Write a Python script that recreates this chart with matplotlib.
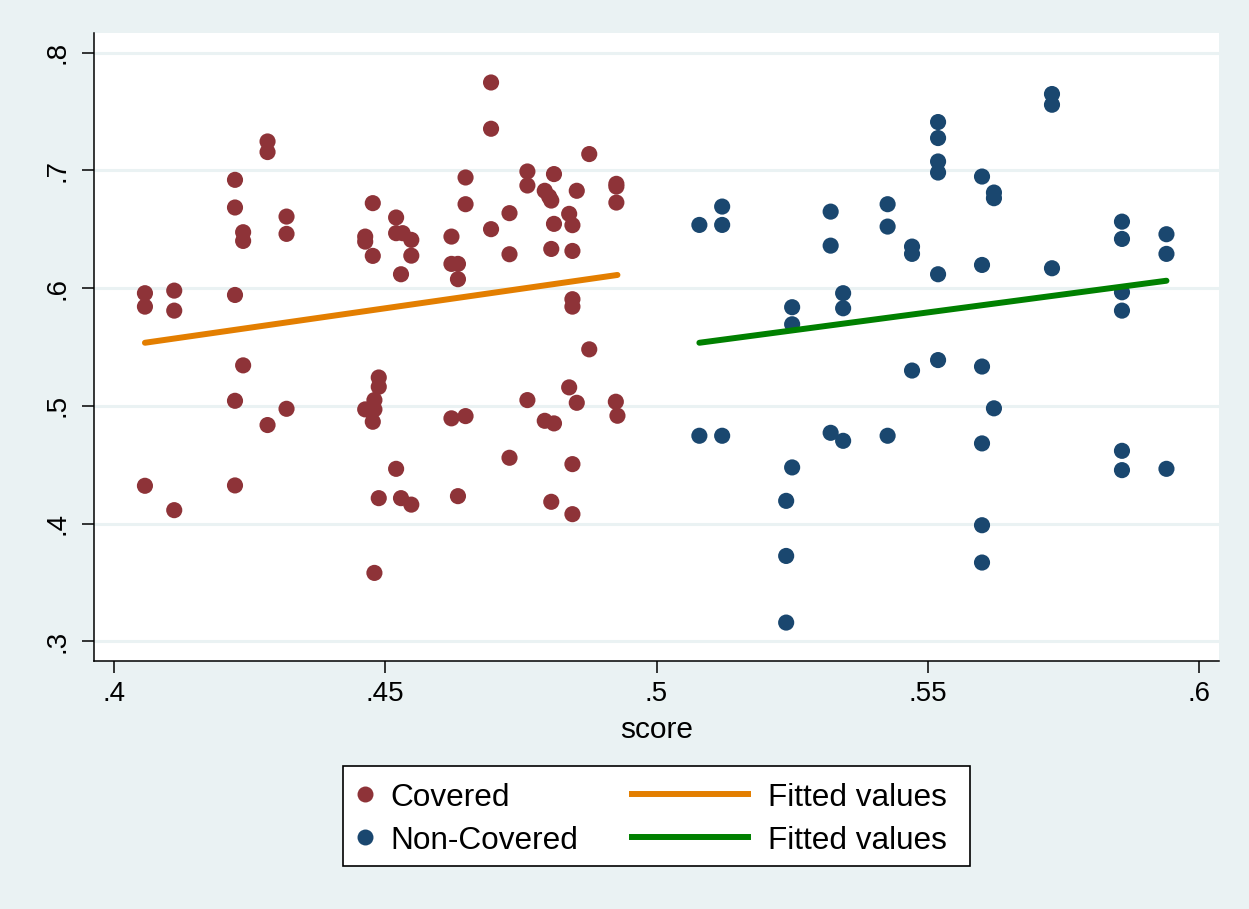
import numpy as np
import matplotlib
matplotlib.use("Agg")
import matplotlib.pyplot as plt
from matplotlib.lines import Line2D
from matplotlib.patches import Rectangle

plt.rcParams['font.family'] = ['Liberation Sans', 'DejaVu Sans']

# ---------------- data ----------------
covered_x = [0.4057, 0.4057, 0.4111, 0.4111, 0.4057, 0.4111,
             0.4223, 0.4223, 0.4223, 0.4223, 0.4223,
             0.4238, 0.4238, 0.4238,
             0.4283, 0.4283, 0.4283,
             0.4318, 0.4318, 0.4318,
             0.4477, 0.4463, 0.4463, 0.4477,
             0.4520, 0.4520, 0.4532, 0.4548, 0.4548, 0.4529,
             0.4488, 0.4488, 0.4480, 0.4463, 0.4480, 0.4477,
             0.4520, 0.4488, 0.4529, 0.4548, 0.4480,
             0.4622, 0.4622, 0.4634, 0.4634, 0.4622, 0.4648, 0.4634,
             0.4648, 0.4648,
             0.4695, 0.4695, 0.4695,
             0.4729, 0.4729, 0.4729,
             0.4762, 0.4762, 0.4762,
             0.4794, 0.4802, 0.4806, 0.4811, 0.4811, 0.4806, 0.4794, 0.4811, 0.4806,
             0.4839, 0.4845, 0.4845, 0.4853, 0.4845, 0.4845, 0.4839, 0.4853, 0.4845, 0.4845,
             0.4876, 0.4876,
             0.4926, 0.4926, 0.4926, 0.4925, 0.4928]
covered_y = [0.5957, 0.5843, 0.5979, 0.5809, 0.4321, 0.4114,
             0.6920, 0.6685, 0.5942, 0.5043, 0.4324,
             0.6475, 0.6401, 0.5344,
             0.7246, 0.7156, 0.4837,
             0.6608, 0.6461, 0.4975,
             0.6722, 0.6438, 0.6395, 0.6274,
             0.6600, 0.6467, 0.6467, 0.6410, 0.6276, 0.6118,
             0.5241, 0.5162, 0.5049, 0.4970, 0.4970, 0.4865,
             0.4465, 0.4216, 0.4216, 0.4161, 0.3581,
             0.6438, 0.6206, 0.6206, 0.6076, 0.4894, 0.4913, 0.4233,
             0.6940, 0.6713,
             0.7747, 0.7354, 0.6501,
             0.6637, 0.6288, 0.4559,
             0.6991, 0.6872, 0.5049,
             0.6827, 0.6778, 0.6744, 0.6969, 0.6546, 0.6333, 0.4873, 0.4851, 0.4185,
             0.6631, 0.6535, 0.6316, 0.6827, 0.5906, 0.5843, 0.5157, 0.5026, 0.4505, 0.4080,
             0.7139, 0.5480,
             0.6886, 0.6863, 0.6727, 0.5035, 0.4916]

noncov_x = [0.5079, 0.5079,
            0.5121, 0.5121, 0.5121,
            0.5250, 0.5250, 0.5250, 0.5239, 0.5239, 0.5239,
            0.5321, 0.5321, 0.5321,
            0.5344, 0.5344, 0.5344,
            0.5426, 0.5426, 0.5426,
            0.5471, 0.5471, 0.5471,
            0.5519, 0.5519, 0.5519, 0.5519, 0.5519, 0.5519,
            0.5600, 0.5600, 0.5600, 0.5600, 0.5600, 0.5600,
            0.5622, 0.5622, 0.5622,
            0.5729, 0.5729, 0.5729,
            0.5858, 0.5858, 0.5858, 0.5858, 0.5858, 0.5858,
            0.5940, 0.5940, 0.5940]
noncov_y = [0.6537, 0.4746,
            0.6693, 0.6537, 0.4746,
            0.5838, 0.5693, 0.4477, 0.4193, 0.3725, 0.3159,
            0.6650, 0.6361, 0.4771,
            0.5957, 0.5829, 0.4703,
            0.6713, 0.6523, 0.4746,
            0.6353, 0.6291, 0.5300,
            0.5389, 0.7411, 0.7275, 0.7076, 0.6982, 0.6118,
            0.6948, 0.6197, 0.5334, 0.4681, 0.3986, 0.3669,
            0.6812, 0.6764, 0.4979,
            0.7649, 0.7558, 0.6169,
            0.6565, 0.6418, 0.5965, 0.5809, 0.4618, 0.4454,
            0.6458, 0.6291, 0.4465]

# fitted values
fit_cov_x = [0.4057, 0.4928]
fit_cov_y = [0.5536, 0.6112]
fit_non_x = [0.5079, 0.5940]
fit_non_y = [0.5536, 0.6063]

x_ticks = [0.4, 0.45, 0.5, 0.55, 0.6]
x_ticklabels = [".4", ".45", ".5", ".55", ".6"]
y_ticks = [0.3, 0.4, 0.5, 0.6, 0.7, 0.8]
y_ticklabels = [".3", ".4", ".5", ".6", ".7", ".8"]
legend_labels = ["Covered", "Non-Covered", "Fitted values", "Fitted values"]

# ---------------- style ----------------
BG = "#EAF2F3"
C_COV = "#8E3338"
C_NON = "#1A476F"
C_FIT1 = "#E37E00"
C_FIT2 = "#008000"

W, H = 1249, 909
fig = plt.figure(figsize=(W / 100, H / 100), dpi=100, facecolor=BG)

ax = fig.add_axes([94 / W, 1 - 661 / H, (1218.7 - 94) / W, (661 - 33) / H])
ax.set_facecolor("white")

ax.set_xlim(0.39631, 0.60363)
ax.set_ylim(0.28326, 0.81674)

ax.set_yticks(y_ticks)
ax.set_yticklabels(y_ticklabels, rotation=90, va="center")
ax.set_xticks(x_ticks)
ax.set_xticklabels(x_ticklabels)
ax.tick_params(axis="both", direction="out", length=8.6, width=1.1,
               labelsize=20, color="black")
ax.tick_params(axis="y", pad=8)
ax.tick_params(axis="x", pad=6)

ax.grid(axis="y", color=BG, linewidth=2.2, zorder=0)
ax.set_axisbelow(True)
for s in ["top", "right"]:
    ax.spines[s].set_visible(False)
for s in ["left", "bottom"]:
    ax.spines[s].set_linewidth(1.1)
    ax.spines[s].set_color("black")

ax.set_xlabel("score", fontsize=21.5, labelpad=6)

ax.scatter(covered_x, covered_y, s=135, color=C_COV, edgecolors="none", zorder=3)
ax.scatter(noncov_x, noncov_y, s=135, color=C_NON, edgecolors="none", zorder=3)

ax.plot(fit_cov_x, fit_cov_y, color=C_FIT1, lw=4.3, solid_capstyle="round", zorder=4)
ax.plot(fit_non_x, fit_non_y, color=C_FIT2, lw=4.3, solid_capstyle="round", zorder=4)

# ---------------- legend (Stata-style box) ----------------
def fx(px):
    return px / W

def fy(py):
    return 1 - py / H

fig.add_artist(Rectangle((fx(343), fy(866)), fx(970) - fx(343), fy(766) - fy(866),
                         transform=fig.transFigure, facecolor="white",
                         edgecolor="black", linewidth=1.2, zorder=5))
rows = [795, 838]
for i, (col, lab) in enumerate([(C_COV, legend_labels[0]), (C_NON, legend_labels[1])]):
    fig.add_artist(Line2D([fx(365)], [fy(rows[i] - 1)], marker="o", markersize=11.5,
                          color=col, markeredgewidth=0, linestyle="none",
                          transform=fig.transFigure, zorder=6))
    fig.text(fx(390), fy(rows[i] + 3), lab, fontsize=22.7, va="center", ha="left", zorder=6)
for i, (col, lab) in enumerate([(C_FIT1, legend_labels[2]), (C_FIT2, legend_labels[3])]):
    fig.add_artist(Line2D([fx(632), fx(748)], [fy(rows[i] - 1), fy(rows[i] - 1)], color=col,
                          lw=4.3, transform=fig.transFigure, zorder=6))
    fig.text(fx(768), fy(rows[i] + 3), lab, fontsize=22.7, va="center", ha="left", zorder=6)

fig.savefig("out.png", dpi=100, facecolor=BG)
